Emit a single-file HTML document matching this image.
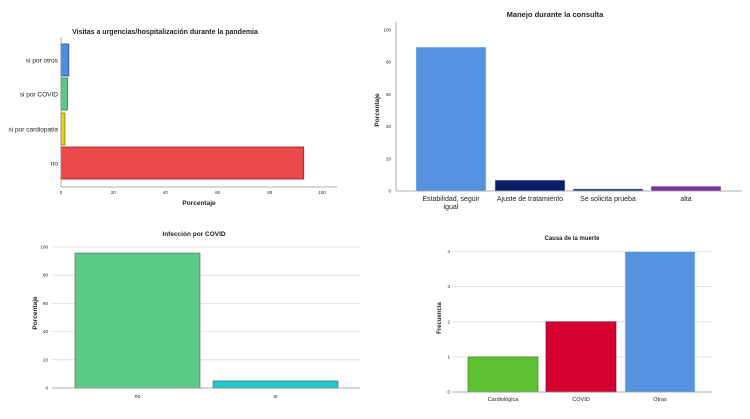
<!DOCTYPE html>
<html><head><meta charset="utf-8">
<style>
body{margin:0;background:#fff;width:750px;height:414px;overflow:hidden;font-family:"Liberation Sans",sans-serif}
svg text{font-family:"Liberation Sans",sans-serif;fill:#222}
</style></head>
<body>
<svg id="s" width="750" height="414"></svg>
<script>
// Chart 1: Visitas
const c1Cats=["si por otros","si por COVID","si por cardiopatia","no"];
const c1Vals=[3,2.5,1.5,93];
const c1Ticks=[0,20,40,60,80,100];
// Chart 2: Manejo
const c2Cats=[["Estabilidad, seguir","igual"],["Ajuste de tratamiento"],["Se solicita prueba"],["alta"]];
const c2Vals=[89.4,6.8,1.4,3];
const c2Ticks=[0,20,40,60,80,100];
// Chart 3: Infeccion
const c3Cats=["no","si"];
const c3Vals=[95.7,5];
const c3Ticks=[0,20,40,60,80,100];
// Chart 4: Causa
const c4Cats=["Cardiológica","COVID","Otras"];
const c4Vals=[1,2,4];
const c4Ticks=[0,1,2,3,4];

const svg=document.getElementById('s');
const NS='http://www.w3.org/2000/svg';
function el(t,a,name,txt){const e=document.createElementNS(NS,t);for(const k in a)e.setAttribute(k,a[k]);


if(txt!==undefined)e.textContent=txt;svg.appendChild(e);return e;}

// Chart 1 horizontal
(function(){
const x=v=>61+v*2.61, bandTop=[44,78,113,147], bh=32;
const colors=["#4f8ee0","#5cc98a","#e5d21c","#ec4a4a"];
const strokes=["#234a8a","#2b7a4f","#8a7a0a","#8a2020"];
el('text',{x:165,y:34,'font-size':7,'font-weight':'bold','text-anchor':'middle'},'chart1-title','Visitas a urgencias/hospitalización durante la pandemia');
c1Vals.forEach((v,i)=>{
el('rect',{x:x(0),y:bandTop[i],width:x(v)-x(0),height:bh,fill:colors[i],stroke:strokes[i],'stroke-width':0.8},'bar-'+c1Cats[i].replace(/ /g,'-'));
el('text',{x:58,y:bandTop[i]+bh/2+2.5,'font-size':6.5,'text-anchor':'end',fill:'#444'},'y-label',c1Cats[i]);
});
el('line',{x1:61,y1:37,x2:61,y2:187,stroke:'#999','stroke-width':0.8},'y-axis');
el('line',{x1:61,y1:187,x2:337,y2:187,stroke:'#999','stroke-width':0.8},'x-axis');
c1Ticks.forEach(t=>el('text',{x:x(t),y:194,'font-size':4.5,'text-anchor':'middle',fill:'#555'},'x-tick',t));
el('text',{x:199,y:205,'font-size':6.5,'font-weight':'bold','text-anchor':'middle'},'x-axis-title','Porcentaje');
})();

// Chart 2
(function(){
const y=v=>191-v*1.61, xs=[416,495,573,651], bw=70;
const colors=["#5592e0","#0a1f66","#2c4a8a","#7b2f8e"];
el('text',{x:555,y:17,'font-size':7.5,'font-weight':'bold','text-anchor':'middle'},'chart2-title','Manejo durante la consulta');
c2Ticks.forEach(t=>el('text',{x:391,y:y(t)+1.5,'font-size':4.5,'text-anchor':'end',fill:'#555'},'y-tick',t));
c2Vals.forEach((v,i)=>{
el('rect',{x:xs[i],y:y(v),width:bw,height:y(0)-y(v),fill:colors[i],stroke:'#cfe0f5','stroke-width':0.5},'bar-manejo-'+i);
c2Cats[i].forEach((l,j)=>el('text',{x:xs[i]+bw/2,y:201+j*8,'font-size':7,'text-anchor':'middle',fill:'#444'},'x-label',l));
});
el('line',{x1:396,y1:22,x2:396,y2:191,stroke:'#999','stroke-width':0.8},'y-axis');
el('line',{x1:396,y1:191,x2:742,y2:191,stroke:'#999','stroke-width':0.8},'x-axis');
el('text',{x:0,y:0,'font-size':6.5,'font-weight':'bold','text-anchor':'middle',transform:'translate(379,110) rotate(-90)'},'y-axis-title','Porcentaje');
})();

// Chart 3
(function(){
const y=v=>388-v*1.41, xs=[75,213], bw=125;
const colors=["#5ccb8a","#1ec9c9"];
el('text',{x:194,y:236,'font-size':6.5,'font-weight':'bold','text-anchor':'middle'},'chart3-title','Infección por COVID');
c3Ticks.forEach(t=>{el('line',{x1:52,y1:y(t),x2:360,y2:y(t),stroke:'#ddd','stroke-width':0.8},'gridline');
el('text',{x:48,y:y(t)+1.5,'font-size':4.5,'text-anchor':'end',fill:'#555'},'y-tick',t);});
c3Vals.forEach((v,i)=>{
el('rect',{x:xs[i],y:y(v),width:bw,height:y(0)-y(v),fill:colors[i],stroke:'#555','stroke-width':0.6},'bar-'+c3Cats[i]);
el('text',{x:xs[i]+bw/2,y:398,'font-size':5.5,'text-anchor':'middle',fill:'#444'},'x-label',c3Cats[i]);
});
el('line',{x1:52,y1:388,x2:360,y2:388,stroke:'#999','stroke-width':0.8},'x-axis');
el('text',{x:0,y:0,'font-size':6.5,'font-weight':'bold','text-anchor':'middle',transform:'translate(37,313) rotate(-90)'},'y-axis-title','Porcentaje');
})();

// Chart 4
(function(){
const y=v=>392-v*35.1, xs=[468,546,625], bw=70;
const colors=["#5ec132","#d4002f","#5592e0"];
const strokes=["#3a7a20","#700018","#cfe0f5"];
el('text',{x:572,y:240,'font-size':6,'font-weight':'bold','text-anchor':'middle'},'chart4-title','Causa de la muerte');
c4Ticks.forEach(t=>{el('line',{x1:452,y1:y(t),x2:712,y2:y(t),stroke:'#ddd','stroke-width':0.8},'gridline');
el('text',{x:450,y:y(t)+1.5,'font-size':4.5,'text-anchor':'end',fill:'#555'},'y-tick',t);});
c4Vals.forEach((v,i)=>{
el('rect',{x:xs[i],y:y(v),width:bw,height:y(0)-y(v),fill:colors[i],stroke:strokes[i],'stroke-width':0.6},'bar-'+c4Cats[i]);
el('text',{x:xs[i]+bw/2,y:401,'font-size':5.5,'text-anchor':'middle',fill:'#444'},'x-label',c4Cats[i]);
});
el('line',{x1:452,y1:392,x2:712,y2:392,stroke:'#999','stroke-width':0.8},'x-axis');
el('text',{x:0,y:0,'font-size':6,'font-weight':'bold','text-anchor':'middle',transform:'translate(441,318) rotate(-90)'},'y-axis-title','Frecuencia');
})();
</script>
</body></html>
